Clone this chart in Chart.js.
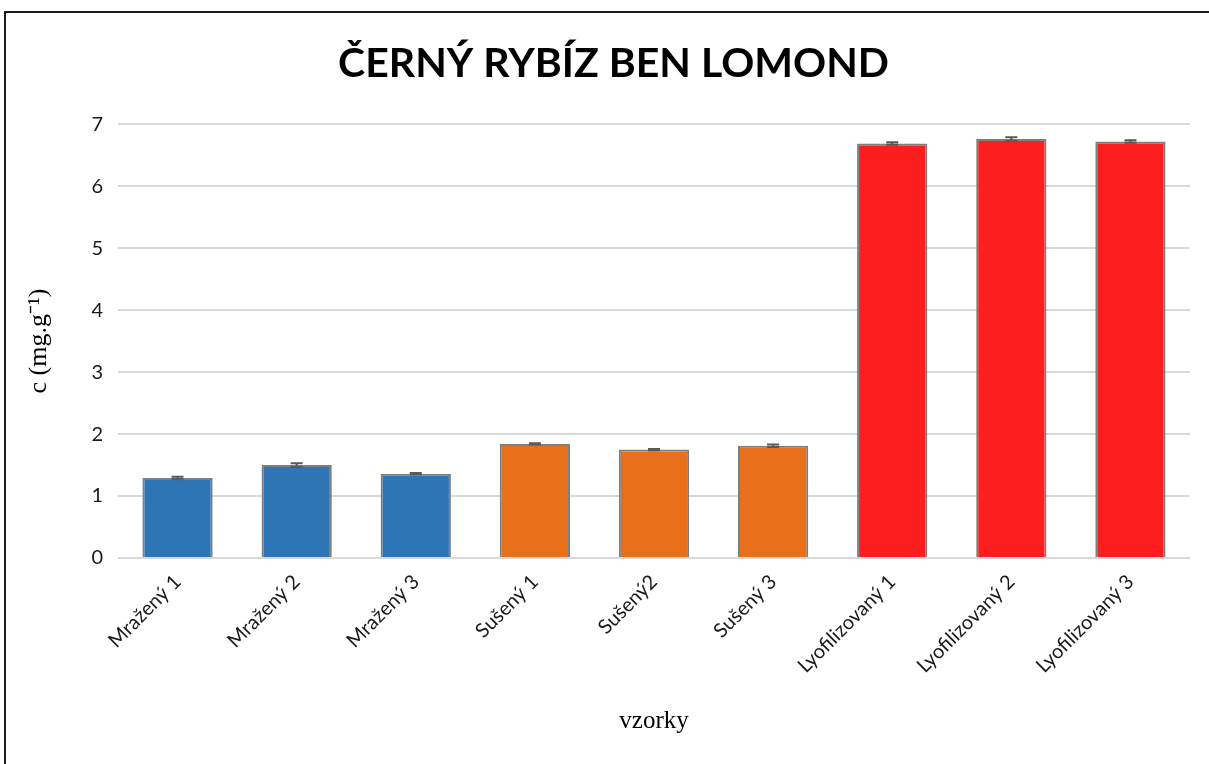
<!DOCTYPE html>
<html>
<head>
<meta charset="utf-8">
<script src="https://cdn.jsdelivr.net/npm/chart.js@4.4.1/dist/chart.umd.min.js"></script>
<style>
  html, body { margin: 0; padding: 0; background: #fff; overflow: hidden; }
  #wrap { position: absolute; left: 0; top: 0; width: 1209px; height: 764px; overflow: hidden; }
  #frame {
    position: absolute; left: 4px; top: 11px; width: 1230px; height: 800px;
    border: 2px solid #1a1a1a; pointer-events: none; box-sizing: border-box;
  }
</style>
</head>
<body>
<div id="wrap">
  <canvas id="chart1" width="1227" height="764"></canvas>
</div>
<div id="frame"></div>
<script>
// data
const labels = ["Mražený 1", "Mražený 2", "Mražený 3", "Sušený 1", "Sušený2", "Sušený 3", "Lyofilizovaný 1", "Lyofilizovaný 2", "Lyofilizovaný 3"];
const values = [1.29, 1.50, 1.36, 1.84, 1.75, 1.81, 6.69, 6.76, 6.72];
const errors = [0.02, 0.03, 0.01, 0.01, 0.01, 0.02, 0.02, 0.03, 0.02];
const colors = ["#2E75B6", "#2E75B6", "#2E75B6", "#E8701A", "#E8701A", "#E8701A", "#FD1F1F", "#FD1F1F", "#FD1F1F"];
const yTicks = [0, 1, 2, 3, 4, 5, 6, 7];

const ctx = document.getElementById("chart1");

// error bars drawn from the same scales as the bars
const errorBars = {
    id: "errorBars",
    afterDatasetsDraw(chart) {
        const c = chart.ctx;
        const y = chart.scales.y;
        const meta = chart.getDatasetMeta(0);
        c.save();
        c.strokeStyle = "#595959";
        c.lineWidth = 2;
        meta.data.forEach((bar, i) => {
            const top = y.getPixelForValue(values[i] + errors[i]);
            const bottom = y.getPixelForValue(values[i] - errors[i]);
            c.beginPath();
            c.moveTo(bar.x, top);
            c.lineTo(bar.x, bottom);
            c.moveTo(bar.x - 6, top);
            c.lineTo(bar.x + 6, top);
            c.moveTo(bar.x - 6, bottom);
            c.lineTo(bar.x + 6, bottom);
            c.stroke();
        });
        c.restore();
    }
};

new Chart(ctx, {
    type: "bar",
    data: {
        labels: labels,
        datasets: [
            {
                label: "c",
                data: values,
                backgroundColor: colors,
                borderColor: "#7F7F7F",
                borderWidth: 2,
                categoryPercentage: 1,
                barPercentage: 0.59
            }
        ]
    },
    options: {
        responsive: false,
        animation: false,
        layout: {
            padding: { left: 0, right: 0, top: 0, bottom: 0 }
        },
        plugins: {
            legend: { display: false },
            tooltip: { enabled: false },
            title: {
                display: true,
                text: "ČERNÝ RYBÍZ BEN LOMOND",
                color: "#000",
                font: { family: "Lato", size: 41, weight: "bold" },
                padding: { top: 39, bottom: 36 }
            }
        },
        scales: {
            x: {
                grid: { display: false },
                border: { display: false },
                ticks: {
                    color: "#1a1a1a",
                    font: { family: "Lato", size: 20 },
                    minRotation: 45,
                    maxRotation: 45,
                    padding: 4
                },
                title: {
                    display: true,
                    text: "vzorky",
                    color: "#000",
                    font: { family: "Liberation Serif", size: 25 },
                    padding: { top: 0, bottom: 28 }
                },
                afterFit(scale) { scale.height = 206; }
            },
            y: {
                min: 0,
                max: 7,
                afterBuildTicks(scale) { scale.ticks = yTicks.map(v => ({ value: v })); },
                grid: { color: "#D9D9D9", lineWidth: 2, drawTicks: false },
                border: { display: false },
                ticks: {
                    color: "#1a1a1a",
                    font: { family: "Lato", size: 20 },
                    padding: 15
                },
                title: {
                    display: true,
                    text: "c (mg.g⁻¹)",
                    color: "#000",
                    font: { family: "Liberation Serif", size: 26 },
                    padding: { top: 24, bottom: 0 }
                },
                afterFit(scale) { scale.width = 118; }
            },
            // empty right side, the chart frame continues past the window
            y2: {
                position: "right",
                display: true,
                grid: { display: false },
                border: { display: false },
                ticks: { display: false },
                afterFit(scale) { scale.width = 37; }
            }
        }
    },
    plugins: [errorBars]
});
</script>
</body>
</html>
